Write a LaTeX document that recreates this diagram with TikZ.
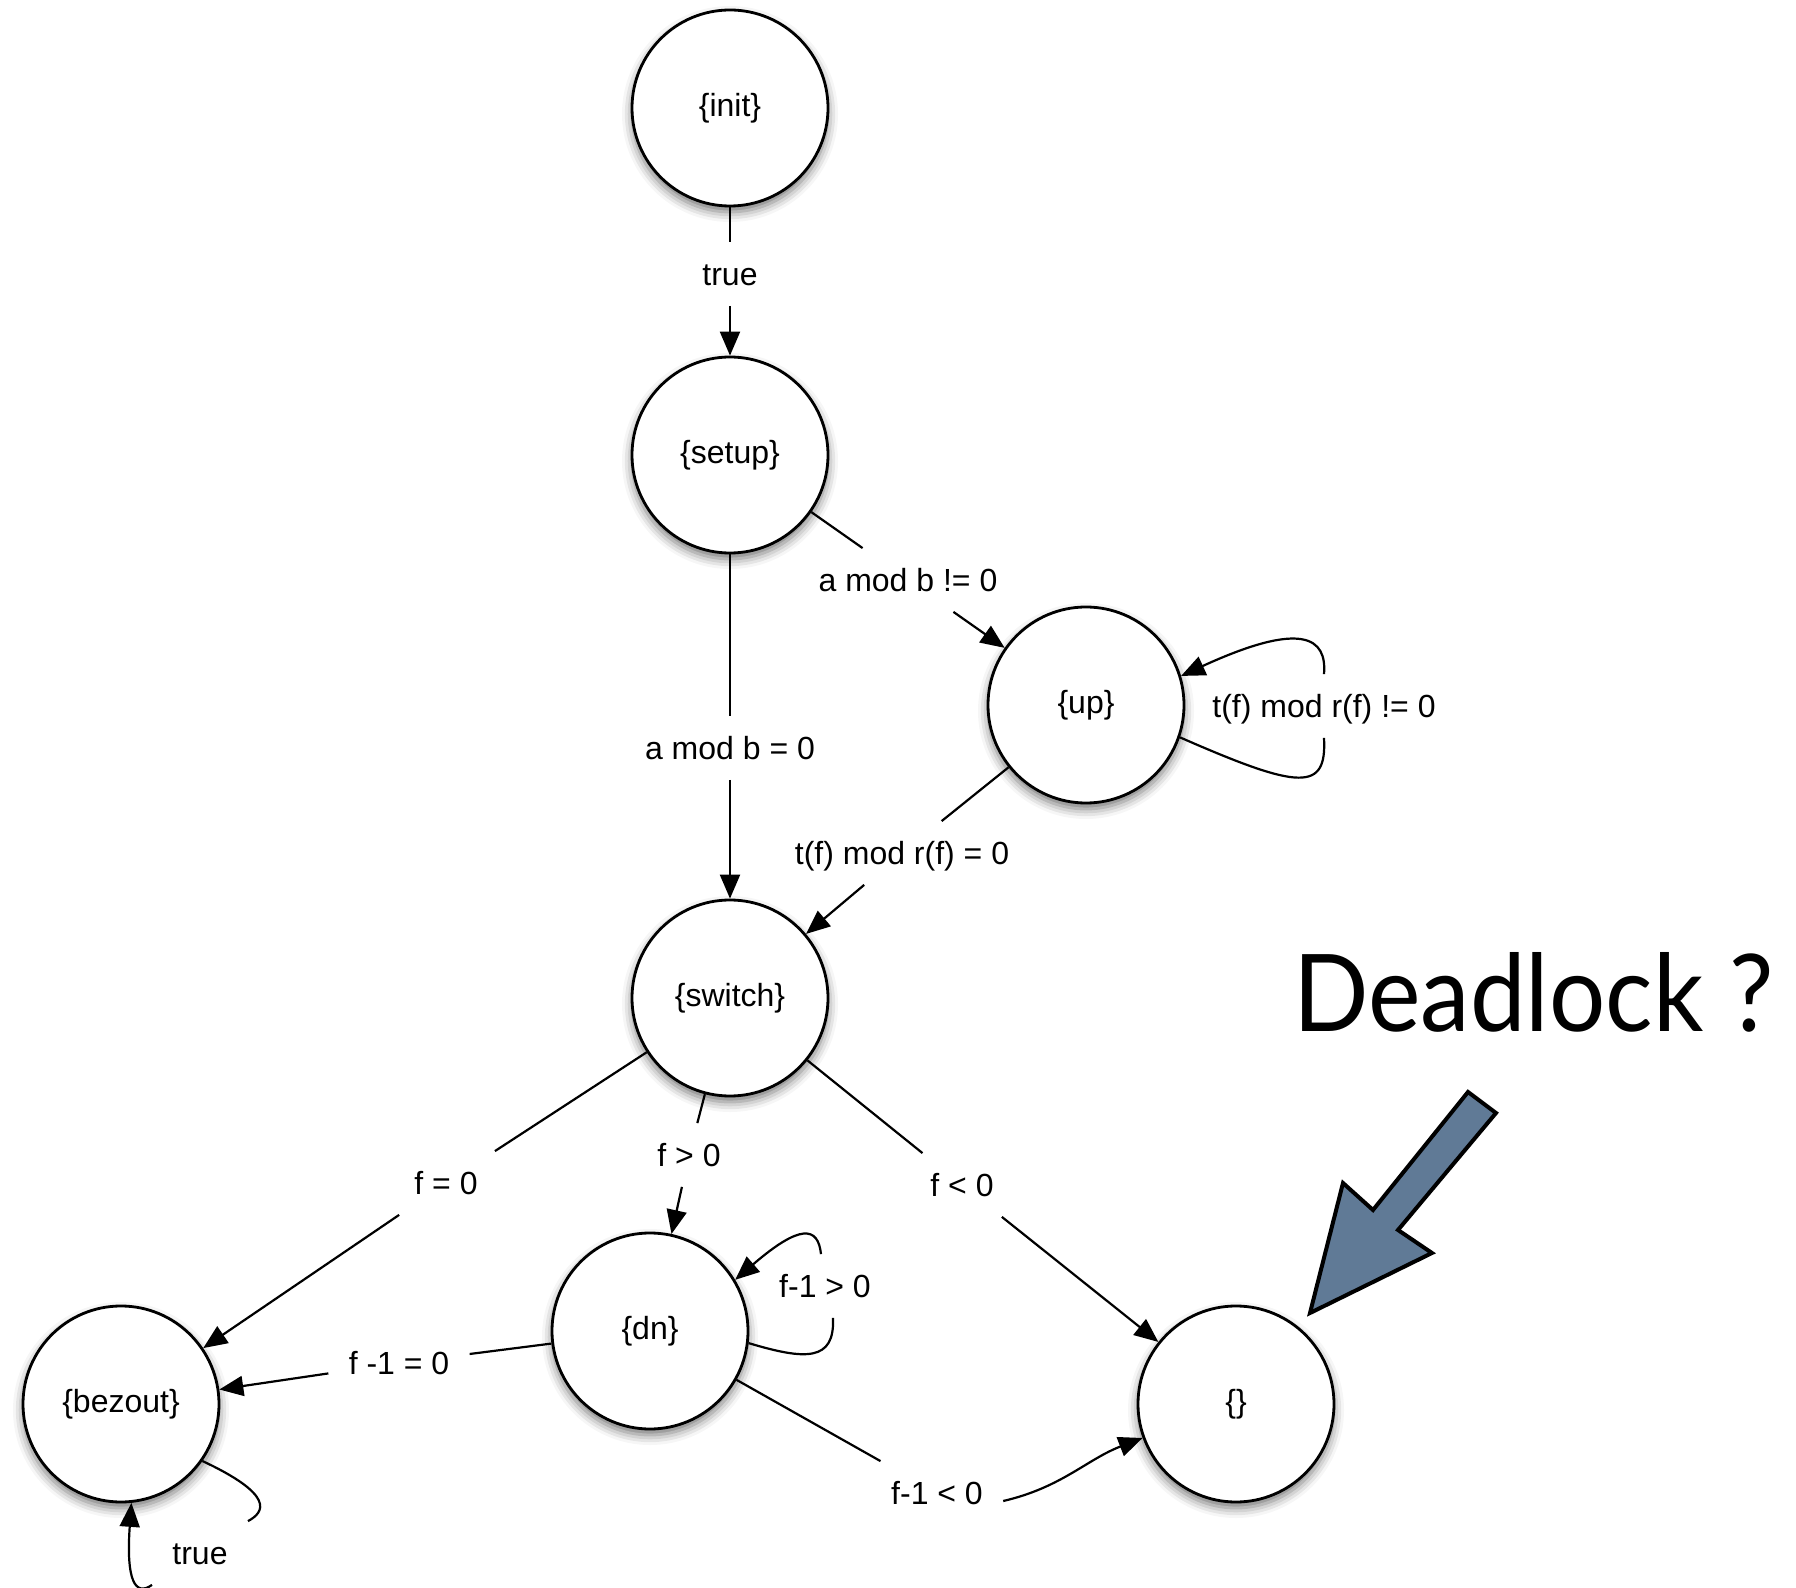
\documentclass[tikz,border=0pt]{standalone}
\usepackage{fontspec}
\setmainfont{Liberation Sans}
\newfontfamily\notefont{Lato}
\usetikzlibrary{arrows.meta,shadows.blur,calc}
\definecolor{pointer}{RGB}{96,122,150}
\tikzset{
  state/.style={circle, draw, line width=1.4pt, fill=white, minimum size=98pt,
    inner sep=0pt, font=\fontsize{16}{19}\selectfont,
    blur shadow={shadow xshift=0pt, shadow yshift=-3pt, shadow blur radius=5pt, shadow opacity=55}},
  cond/.style={inner sep=10pt, text height=11.5pt, text depth=0pt,
    font=\fontsize{16}{19}\selectfont},
  edge/.style={line width=1.1pt},
  arc/.style={edge, -{Triangle[length=12pt,width=10pt]}},
}
\begin{document}
\begin{tikzpicture}[x=0.5pt,y=-0.5pt]
\useasboundingbox (0,0) rectangle (1796,1588);

% states
\node[state] (init)   at (730,108)   {\{init\}};
\node[state] (setup)  at (730,455)   {\{setup\}};
\node[state] (up)     at (1086,705)  {\{up\}};
\node[state] (switch) at (730,998)   {\{switch\}};
\node[state] (dn)     at (650,1331)  {\{dn\}};
\node[state] (bezout) at (121,1404)  {\{bezout\}};
\node[state] (empty)  at (1236,1404) {\{\}};

% transition guards
\node[cond] (l1)  at (730,274)   {true};
\node[cond] (l2)  at (908,580)   {a mod b != 0};
\node[cond] (l3)  at (730,748)   {a mod b = 0};
\node[cond] (lup) at (1324,706)  {t(f) mod r(f) != 0};
\node[cond] (l5)  at (902,853)   {t(f) mod r(f) = 0};
\node[cond] (l6)  at (446,1183)  {f = 0};
\node[cond] (l7)  at (689,1155)  {f > 0};
\node[cond] (l8)  at (962,1185)  {f < 0};
\node[cond] (l9)  at (825,1286)  {f-1 > 0};
\node[cond] (l10) at (399,1363)  {f -1 = 0};
\node[cond] (l11) at (937,1493)  {f-1 < 0};
\node[cond] (l12) at (200,1553)  {true};

% straight transitions
\draw[edge] (init) -- (l1);    \draw[arc] (l1) -- (setup);
\draw[edge] (setup) -- (l2);   \draw[arc] (l2) -- (up);
\draw[edge] (setup) -- (l3);   \draw[arc] (l3) -- (switch);
\draw[edge] (up) -- (l5);      \draw[arc] (l5) -- (switch);
\draw[edge] (switch) -- (l6);  \draw[arc] (l6) -- (bezout);
\draw[edge] (switch) -- (l7);  \draw[arc] (l7) -- (dn);
\draw[edge] (switch) -- (l8);  \draw[arc] (l8) -- (empty);
\draw[edge] (dn) -- (l10);     \draw[arc] (l10) -- (bezout);
\draw[edge] (dn) -- (l11);
\draw[arc] ([yshift=-4pt]l11.east) to[out=13,in=201] (empty.200);

% self loops
\draw[edge] (up.-19) .. controls (1300,790) and (1327,792) .. (lup.south);
\draw[arc] (lup.north) .. controls (1327,638) and (1303,620) .. (up.17);
\draw[edge] (dn.-7) .. controls (805,1360) and (835,1362) .. ([xshift=4pt]l9.south);
\draw[arc] ([xshift=-2pt]l9.north) .. controls (818,1226) and (800,1224) .. (dn.31);
\draw[edge] (bezout.-35) .. controls (275,1495) and (265,1512) .. (l12.north east);
\draw[arc] (l12.south west) .. controls (135,1597) and (126,1580) .. (bezout.-84);

% annotation
\node[anchor=base west, inner sep=0pt] (dead) at (1293,1032)
  {\resizebox{240pt}{39.5pt}{\notefont Deadlock ?}};
\draw[fill=pointer, line width=2pt, line join=miter]
  (1310,1313) -- (1343,1183) -- (1373,1210) -- (1468,1092) -- (1496,1113)
  -- (1398,1230) -- (1432,1253) -- cycle;
\end{tikzpicture}
\end{document}
